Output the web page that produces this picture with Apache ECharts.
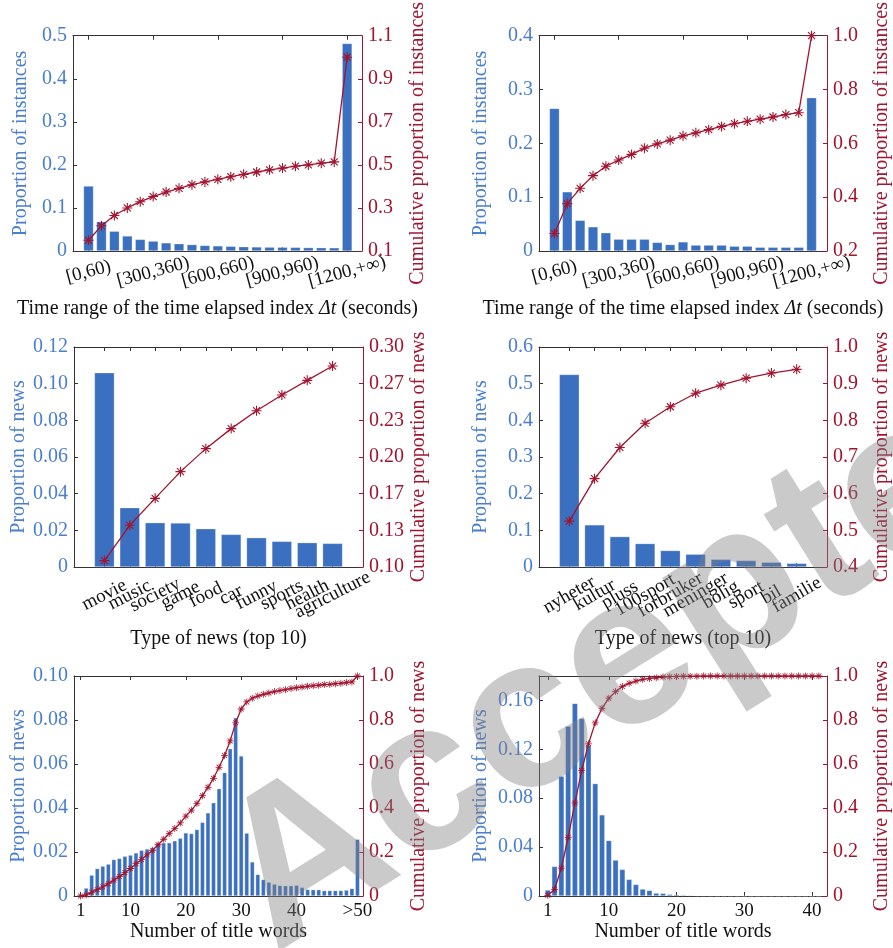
<!DOCTYPE html>
<html>
<head>
<meta charset="utf-8">
<script src="https://cdn.jsdelivr.net/npm/echarts@6/dist/echarts.min.js"></script>
<style>
html,body{margin:0;padding:0;background:#fff;}
#main{width:893px;height:948px;}
</style>
</head>
<body>
<div id="main"></div>
<script>
// ---- data ----
// top row: time elapsed index, 21 bins
var timeX = [1,2,3,4,5,6,7,8,9,10,11,12,13,14,15,16,17,18,19,20,21];
var timeTickPos = [1,6,11,16,21];
var timeTickText = ['[0,60)','[300,360)','[600,660)','[900,960)','[1200,+\u221e)'];
var tlProp = [0.151,0.068,0.046,0.035,0.027,0.023,0.019,0.017,0.015,0.013,0.012,0.011,0.010,0.0095,0.009,0.0088,0.0085,0.008,0.0078,0.0075,0.482];
var tlCum  = [0.150,0.217,0.265,0.300,0.329,0.353,0.374,0.391,0.408,0.421,0.433,0.445,0.456,0.467,0.477,0.485,0.494,0.500,0.508,0.514,1.0];
var trProp = [0.265,0.110,0.057,0.045,0.034,0.022,0.022,0.022,0.016,0.012,0.017,0.011,0.011,0.011,0.009,0.009,0.007,0.007,0.007,0.007,0.285];
var trCum  = [0.265,0.376,0.433,0.480,0.515,0.538,0.559,0.582,0.598,0.612,0.628,0.639,0.651,0.663,0.673,0.682,0.690,0.698,0.707,0.714,1.0];

// middle row: type of news (top 10)
var typeX = [1,2,3,4,5,6,7,8,9,10];
var mlTypes = ['movie','music','society','game','food','car','funny','sports','health','agriculture'];
var mlProp = [0.106,0.0324,0.0242,0.0240,0.0209,0.0178,0.0160,0.0140,0.0133,0.0129];
var mlCum  = [0.1058,0.1379,0.1624,0.1867,0.2076,0.2258,0.2421,0.2564,0.2697,0.2827];
var mrTypes = ['nyheter','kultur','pluss','100sport','forbruker','meninger','bolig','sport','bil','familie'];
var mrProp = [0.525,0.115,0.083,0.064,0.045,0.035,0.021,0.018,0.013,0.010];
var mrCum  = [0.525,0.641,0.726,0.792,0.837,0.874,0.896,0.915,0.929,0.939];

// bottom row: number of title words
var blX = [1,2,3,4,5,6,7,8,9,10,11,12,13,14,15,16,17,18,19,20,21,22,23,24,25,26,27,28,29,30,31,32,33,34,35,36,37,38,39,40,41,42,43,44,45,46,47,48,49,50,51];
var blTickPos = [1,10,20,30,40,51];
var blTickText = ['1','10','20','30','40','>50'];
var blProp = [0.0005,0.0036,0.0095,0.0125,0.0136,0.0145,0.0166,0.0171,0.0181,0.0186,
              0.0196,0.0208,0.0214,0.0219,0.0242,0.0242,0.0242,0.0251,0.0263,0.0287,
              0.0284,0.0302,0.0335,0.0378,0.0424,0.0488,0.0561,0.0670,0.0810,0.0637,
              0.0286,0.0155,0.0098,0.0075,0.0063,0.0054,0.0048,0.0047,0.0047,0.0049,
              0.0039,0.0030,0.0029,0.0029,0.0025,0.0025,0.0025,0.0025,0.0027,0.0034,0.0258];
var blCum  = [0.000,0.005,0.017,0.029,0.041,0.056,0.072,0.088,0.106,0.125,
              0.147,0.166,0.187,0.208,0.233,0.258,0.284,0.307,0.332,0.363,
              0.390,0.420,0.456,0.494,0.535,0.585,0.639,0.705,0.787,0.850,
              0.882,0.899,0.909,0.917,0.923,0.929,0.934,0.938,0.943,0.947,
              0.950,0.953,0.956,0.958,0.961,0.962,0.965,0.967,0.970,0.973,1.0];
var brX = [1,2,3,4,5,6,7,8,9,10,11,12,13,14,15,16,17,18,19,20,21,22,23,24,25,26,27,28,29,30,31,32,33,34,35,36,37,38,39,40,41];
var brTickPos = [1,10,20,30,40];
var brTickText = ['1','10','20','30','40'];
var brProp = [0.0049,0.0242,0.098,0.139,0.1576,0.1453,0.1233,0.092,0.0664,0.0454,
              0.0294,0.0218,0.0136,0.0095,0.0057,0.0046,0.0024,0.0022,0.0014,0.0011,
              0.0008,0.0006,0.0004,0.0003,0.0002,0.0001,0.0001,0.0001,0,0,
              0,0,0,0,0,0,0,0,0,0,0];
var brCum  = [0.003,0.030,0.127,0.267,0.423,0.570,0.692,0.787,0.853,0.899,
              0.929,0.952,0.967,0.977,0.985,0.989,0.992,0.995,0.997,0.998,
              0.999,0.999,0.999,1.0,1.0,1.0,1.0,1.0,1.0,1.0,
              1.0,1.0,1.0,1.0,1.0,1.0,1.0,1.0,1.0,1.0,1.0];

// y tick values
var tlLeftTicks = [0,0.1,0.2,0.3,0.4,0.5];
var tlRightTicks = [0.1,0.3,0.5,0.7,0.9,1.1];
var trLeftTicks = [0,0.1,0.2,0.3,0.4];
var trRightTicks = [0.2,0.4,0.6,0.8,1.0];
var mlLeftTicks = [0,0.02,0.04,0.06,0.08,0.10,0.12];
var mlRightTicks = [0.10,0.1333,0.1667,0.20,0.2333,0.2667,0.30];
var mrLeftTicks = [0,0.1,0.2,0.3,0.4,0.5,0.6];
var mrRightTicks = [0.4,0.5,0.6,0.7,0.8,0.9,1.0];
var blLeftTicks = [0,0.02,0.04,0.06,0.08,0.10];
var blRightTicks = [0,0.2,0.4,0.6,0.8,1.0];
var brLeftTicks = [0,0.04,0.08,0.12,0.16];
var brRightTicks = [0,0.2,0.4,0.6,0.8,1.0];

// ---- style ----
var barColor = '#3b6fc0';
var blueText = '#4a7ecf';
var red = '#a2142f';
var dark = '#333333';
var font = 'Liberation Serif';
// asterisk marker (+ and x)
var star = 'path://M8.9 0L11.1 0L11.1 20L8.9 20Z M0 8.9L20 8.9L20 11.1L0 11.1Z' +
  'M3.8 2.2L17.8 16.2L16.2 17.8L2.2 3.8Z M16.2 2.2L17.8 3.8L3.8 17.8L2.2 16.2Z';

var option = {
  animation: false,
  backgroundColor: '#fff',
  grid: [], xAxis: [], yAxis: [], series: [],
  graphic: []
};

function fnPairs(xs, ys){
  var d = [];
  for (var i = 0; i < xs.length; i++) d.push([xs[i], ys[i]]);
  return d;
}

function fnFmt(dec){
  return function(v){ return v === 0 ? '0' : v.toFixed(dec); };
}

// bottom x axis label style; ticks split over two axes so echarts keeps every rotated label
function fnXLabel(p, pos){
  return {
    customValues: pos, rotate: p.rot || 0, margin: p.labMargin,
    showMinLabel: true, showMaxLabel: true, hideOverlap: false,
    align: 'center', verticalAlign: p.rot ? 'middle' : 'top',
    color: '#111', fontSize: 19, fontFamily: font,
    formatter: function(v){ return p.tickText[p.tickPos.indexOf(v)]; }
  };
}

function fnAddPanel(p){
  var g = option.grid.length;
  option.grid.push({left: p.left, top: p.top, width: 289, height: 220});

  var evenPos = [], oddPos = [];
  for (var i = 0; i < p.tickPos.length; i++) (i % 2 ? oddPos : evenPos).push(p.tickPos[i]);

  var xb = option.xAxis.length;
  option.xAxis.push({
    type: 'value', gridIndex: g, position: 'bottom', min: p.xMin, max: p.xMax,
    axisLine: {show: true, onZero: false, lineStyle: {color: dark, width: 1}},
    axisTick: {show: true, inside: true, length: 4, customValues: p.tickPos, lineStyle: {color: dark}},
    splitLine: {show: false},
    axisLabel: fnXLabel(p, evenPos),
    name: p.xName, nameLocation: 'middle', nameGap: p.xNameGap,
    nameTextStyle: {color: '#111', fontSize: 20, fontFamily: font,
      rich: {i: {fontStyle: 'italic', color: '#111', fontSize: 20, fontFamily: font}}}
  });
  option.xAxis.push({
    type: 'value', gridIndex: g, position: 'bottom', min: p.xMin, max: p.xMax,
    axisLine: {show: false, onZero: false}, axisTick: {show: false},
    splitLine: {show: false},
    axisLabel: fnXLabel(p, oddPos)
  });
  option.xAxis.push({
    type: 'value', gridIndex: g, position: 'top', min: p.xMin, max: p.xMax,
    axisLine: {show: true, onZero: false, lineStyle: {color: dark, width: 1}},
    axisTick: {show: true, inside: true, length: 4, customValues: p.tickPos, lineStyle: {color: dark}},
    axisLabel: {show: false}, splitLine: {show: false}
  });

  var yl = option.yAxis.length;
  option.yAxis.push({
    type: 'value', gridIndex: g, position: 'left', min: p.lMin, max: p.lMax,
    axisLine: {show: true, onZero: false, lineStyle: {color: dark, width: 1}},
    axisTick: {show: true, inside: true, length: 4, customValues: p.lTicks, lineStyle: {color: dark}},
    splitLine: {show: false},
    axisLabel: {customValues: p.lTicks, margin: 6, color: blueText, fontSize: 20, fontFamily: font,
      showMinLabel: true, showMaxLabel: true, formatter: fnFmt(p.lDec)},
    name: p.lName, nameLocation: 'middle', nameGap: p.lNameGap,
    nameTextStyle: {color: blueText, fontSize: 20, fontFamily: font}
  });
  option.yAxis.push({
    type: 'value', gridIndex: g, position: 'right', min: p.rMin, max: p.rMax,
    axisLine: {show: true, onZero: false, lineStyle: {color: red, width: 1}},
    axisTick: {show: true, inside: true, length: 4, customValues: p.rTicks, lineStyle: {color: red}},
    splitLine: {show: false},
    axisLabel: {customValues: p.rTicks, margin: 6, color: red, fontSize: 20, fontFamily: font,
      showMinLabel: true, showMaxLabel: true, formatter: fnFmt(p.rDec)},
    name: p.rName, nameLocation: 'middle', nameGap: p.rNameGap,
    nameTextStyle: {color: red, fontSize: 20, fontFamily: font}
  });

  option.series.push({
    type: 'bar', xAxisIndex: xb, yAxisIndex: yl, barWidth: p.barW,
    itemStyle: {color: barColor, borderColor: 'rgba(255,255,255,0.45)', borderWidth: 0.6},
    data: fnPairs(p.x, p.prop)
  });
  option.series.push({
    type: 'line', xAxisIndex: xb, yAxisIndex: yl + 1,
    symbol: star, symbolSize: p.starSize, symbolKeepAspect: true,
    lineStyle: {color: red, width: 1.3}, itemStyle: {color: red},
    data: fnPairs(p.x, p.cum), z: 3
  });
}

var timeName = 'Time range of the time elapsed index {i|\u0394t} (seconds)';

fnAddPanel({left: 73, top: 31, x: timeX, prop: tlProp, cum: tlCum, xMin: -0.2, xMax: 22.15,
  tickPos: timeTickPos, tickText: timeTickText, rot: 15, labMargin: 21, xName: timeName, xNameGap: 48,
  lMin: 0, lMax: 0.5, lTicks: tlLeftTicks, lDec: 1, lName: 'Proportion of instances', lNameGap: 42,
  rMin: 0.1, rMax: 1.1, rTicks: tlRightTicks, rDec: 1, rName: 'Cumulative proportion of instances', rNameGap: 46,
  barW: 10, starSize: 10});
fnAddPanel({left: 539, top: 31, x: timeX, prop: trProp, cum: trCum, xMin: -0.2, xMax: 22.2,
  tickPos: timeTickPos, tickText: timeTickText, rot: 15, labMargin: 21, xName: timeName, xNameGap: 48,
  lMin: 0, lMax: 0.4, lTicks: trLeftTicks, lDec: 1, lName: 'Proportion of instances', lNameGap: 48,
  rMin: 0.2, rMax: 1.0, rTicks: trRightTicks, rDec: 1, rName: 'Cumulative proportion of instances', rNameGap: 45,
  barW: 10, starSize: 10});
fnAddPanel({left: 74, top: 347, x: typeX, prop: mlProp, cum: mlCum, xMin: -0.2, xMax: 11.2,
  tickPos: typeX, tickText: mlTypes, rot: 27, labMargin: 28, xName: 'Type of news (top 10)', xNameGap: 62,
  lMin: 0, lMax: 0.12, lTicks: mlLeftTicks, lDec: 2, lName: 'Proportion of news', lNameGap: 44,
  rMin: 0.1, rMax: 0.3, rTicks: mlRightTicks, rDec: 2, rName: 'Cumulative proportion of news', rNameGap: 46,
  barW: 20, starSize: 10});
fnAddPanel({left: 539, top: 347, x: typeX, prop: mrProp, cum: mrCum, xMin: -0.2, xMax: 11.2,
  tickPos: typeX, tickText: mrTypes, rot: 30, labMargin: 28, xName: 'Type of news (top 10)', xNameGap: 62,
  lMin: 0, lMax: 0.6, lTicks: mrLeftTicks, lDec: 1, lName: 'Proportion of news', lNameGap: 48,
  rMin: 0.4, rMax: 1.0, rTicks: mrRightTicks, rDec: 1, rName: 'Cumulative proportion of news', rNameGap: 45,
  barW: 20, starSize: 10});
fnAddPanel({left: 74, top: 676, x: blX, prop: blProp, cum: blCum, xMin: -0.2, xMax: 52.0,
  tickPos: blTickPos, tickText: blTickText, rot: 0, labMargin: 6, xName: 'Number of title words', xNameGap: 26,
  lMin: 0, lMax: 0.10, lTicks: blLeftTicks, lDec: 2, lName: 'Proportion of news', lNameGap: 44,
  rMin: 0, rMax: 1.0, rTicks: blRightTicks, rDec: 1, rName: 'Cumulative proportion of news', rNameGap: 46,
  barW: 4.4, starSize: 7});
fnAddPanel({left: 539, top: 676, x: brX, prop: brProp, cum: brCum, xMin: -0.3, xMax: 42.2,
  tickPos: brTickPos, tickText: brTickText, rot: 0, labMargin: 6, xName: 'Number of title words', xNameGap: 26,
  lMin: 0, lMax: 0.18, lTicks: brLeftTicks, lDec: 2, lName: 'Proportion of news', lNameGap: 48,
  rMin: 0, rMax: 1.0, rTicks: brRightTicks, rDec: 1, rName: 'Cumulative proportion of news', rNameGap: 45,
  barW: 5.6, starSize: 7});

// "Accepted" watermark
option.graphic.push({
  type: 'text', x: 300, y: 995, rotation: 32 * Math.PI / 180, z: 100, silent: true,
  style: {text: 'Accepted', fontSize: 215, fontWeight: 'bold', fontFamily: 'Liberation Sans',
    fill: 'rgba(128,128,128,0.42)', textAlign: 'left', textVerticalAlign: 'bottom'}
});

var myChart = echarts.init(document.getElementById('main'), null, {renderer: 'canvas'});
myChart.setOption(option);
</script>
</body>
</html>
